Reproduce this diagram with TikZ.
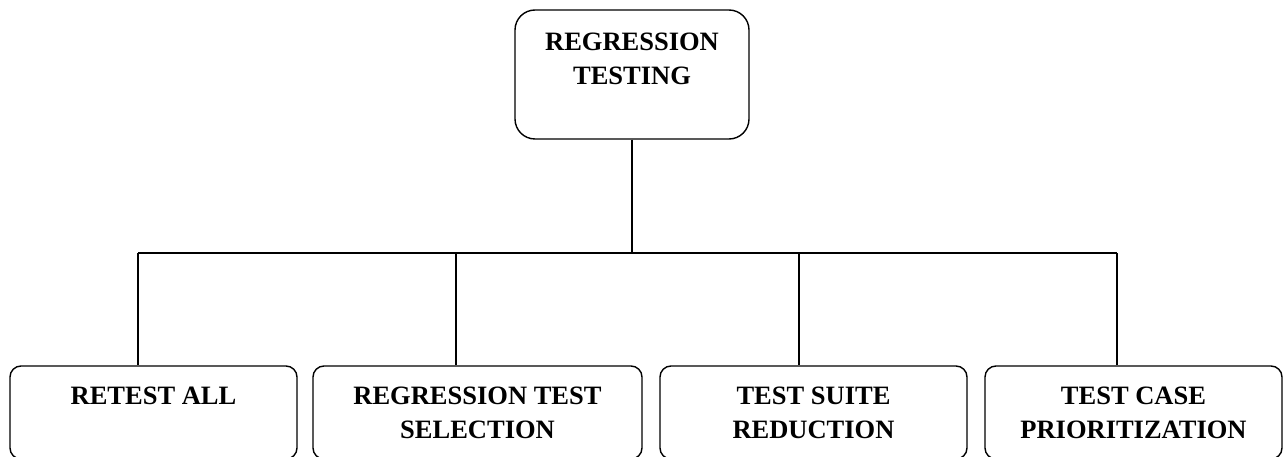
\documentclass[tikz,border=0pt]{standalone}
\usepackage{fontspec}
\setmainfont{Liberation Serif}
\usetikzlibrary{positioning}

\tikzset{
  boxx/.style={draw, rounded corners=#1, line width=1.4pt, inner sep=0pt},
  lbl/.style={font=\fontsize{26.5}{34}\selectfont\bfseries, align=center, inner sep=0pt, anchor=north},
  wire/.style={line width=1.4pt},
}

\begin{document}
\begin{tikzpicture}[x=1pt,y=-1pt]
	\useasboundingbox (0,0) rectangle (1283,457);
	
	\def\bt{366}
	\def\bb{459}
	\def\bus{253}
	\pgfmathsetmacro{\bmid}{(\bt+\bb)/2}
	\pgfmathsetmacro{\bhei}{\bb-\bt}
	
	% root
	\node[boxx=20pt, minimum width=234pt, minimum height=129pt] (root) at (632,74.5) {};
	\node[lbl] (rootT) at ([yshift=-23pt]root.north) {REGRESSION\\TESTING};
	
	% the four kinds
	\node[boxx=11pt, minimum width=287pt, minimum height=\bhei pt] (rta) at (153.5,\bmid) {};
	\node[boxx=11pt, minimum width=329pt, minimum height=\bhei pt] (rts) at (477.5,\bmid) {};
	\node[boxx=11pt, minimum width=307pt, minimum height=\bhei pt] (tsr) at (813.5,\bmid) {};
	\node[boxx=11pt, minimum width=297pt, minimum height=\bhei pt] (tcp) at (1133.5,\bmid) {};
	
	\node[lbl] (rtaT) at ([yshift=-21pt]rta.north) {RETEST ALL};
	\node[lbl] (rtsT) at ([yshift=-21pt]rts.north) {REGRESSION TEST\\SELECTION};
	\node[lbl] (tsrT) at ([yshift=-21pt]tsr.north) {TEST SUITE\\REDUCTION};
	\node[lbl] (tcpT) at ([yshift=-21pt]tcp.north) {TEST CASE\\PRIORITIZATION};
	
	\coordinate (hub) at (632,\bus);
	\coordinate (j1) at (138,\bus);
	\coordinate (j2) at (456,\bus);
	\coordinate (j3) at (799,\bus);
	\coordinate (j4) at (1117,\bus);
	
	\draw[wire] (root.south) -- (hub);
	\draw[wire] (j1) -- (j4);
	\draw[wire] (j1) -- (j1 |- rta.north);
	\draw[wire] (j2) -- (j2 |- rts.north);
	\draw[wire] (j3) -- (j3 |- tsr.north);
	\draw[wire] (j4) -- (j4 |- tcp.north);
	
\end{tikzpicture}
\end{document}
